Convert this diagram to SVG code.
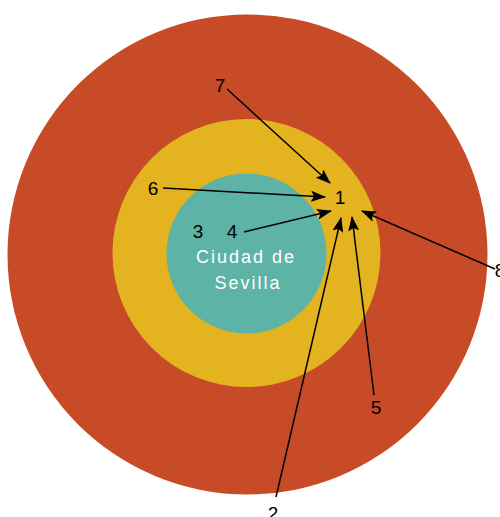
<svg xmlns="http://www.w3.org/2000/svg" width="500" height="517" viewBox="0 0 500 517">
<style>
.num{font-family:"Liberation Sans",Arial,sans-serif;font-size:19px;fill:#000;text-anchor:middle}
.lbl{font-family:"Liberation Sans",Arial,sans-serif;font-size:18px;fill:#fff;text-anchor:middle;letter-spacing:2px}
.arr{stroke:#000;stroke-width:1.5;fill:none;marker-end:url(#ah)}
</style>
<defs>
<marker id="ah" viewBox="0 0 15 11" refX="14" refY="5.5" markerWidth="15" markerHeight="11" markerUnits="userSpaceOnUse" orient="auto">
<path d="M0,0 L15,5.5 L0,11 L3,5.5 z" fill="#000"/>
</marker>
</defs>
<rect width="500" height="517" fill="#fff"/>
<g id="outer"><circle cx="247.5" cy="254.5" r="240" fill="#C84B28"/></g>
<g id="middle"><circle cx="246.5" cy="253" r="134" fill="#E3B320"/></g>
<g id="inner"><circle cx="246.5" cy="253.5" r="80" fill="#5DB3A5"/>
<text class="lbl" x="246" y="263">Ciudad de</text>
<text class="lbl" x="248" y="289">Sevilla</text></g>
<g id="n1"><text class="num" x="340" y="204">1</text></g>
<g id="n2"><text class="num" x="273" y="520">2</text></g>
<g id="n3"><text class="num" x="198" y="238">3</text></g>
<g id="n4"><text class="num" x="232" y="238">4</text></g>
<g id="n5"><text class="num" x="376" y="414">5</text></g>
<g id="n6"><text class="num" x="153" y="195">6</text></g>
<g id="n7"><text class="num" x="220" y="92">7</text></g>
<g id="n8"><text class="num" x="500" y="277">8</text></g>
<g id="connectors">
<line class="arr" x1="227" y1="89" x2="330" y2="183"/>
<line class="arr" x1="163" y1="188" x2="325" y2="197"/>
<line class="arr" x1="244" y1="232" x2="331" y2="211"/>
<line class="arr" x1="495" y1="269" x2="362" y2="211"/>
<line class="arr" x1="276" y1="497" x2="341" y2="218"/>
<line class="arr" x1="374" y1="395" x2="352" y2="217"/>
</g>
</svg>
